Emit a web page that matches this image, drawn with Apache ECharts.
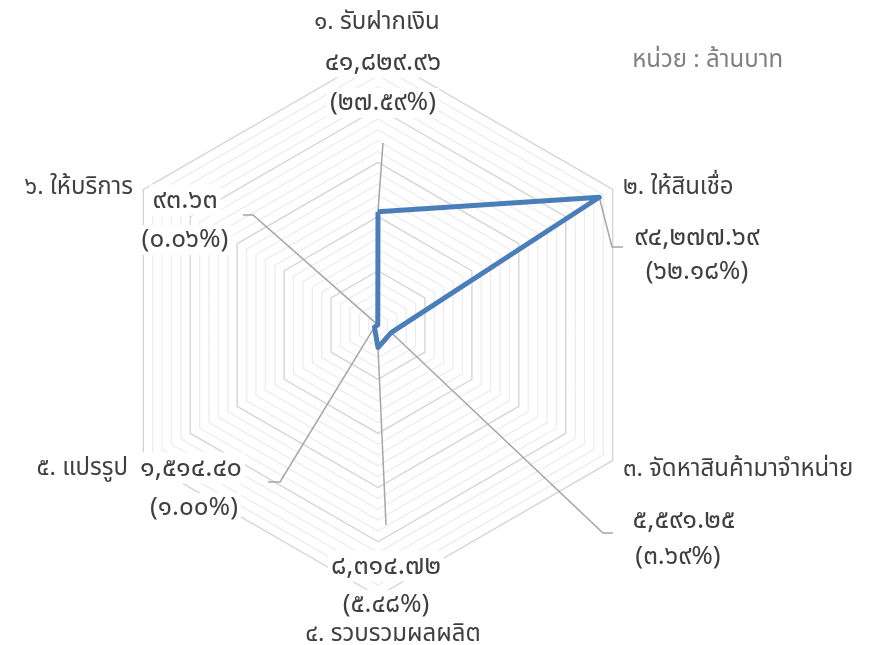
<!DOCTYPE html>
<html>
<head>
<meta charset="utf-8">
<script src="https://cdn.jsdelivr.net/npm/echarts@6/dist/echarts.min.js"></script>
<style>
  html, body { margin: 0; padding: 0; background: #fff; }
  #chart { width: 879px; height: 645px; }
</style>
</head>
<body>
<div id="chart"></div>
<script>
// หมวดธุรกิจ (เรียงตามเข็มนาฬิกาเริ่มจากด้านบน)
const categories = [
  '๑. รับฝากเงิน',
  '๒. ให้สินเชื่อ',
  '๓. จัดหาสินค้ามาจำหน่าย',
  '๔. รวบรวมผลผลิต',
  '๕. แปรรูป',
  '๖. ให้บริการ'
];
// ล้านบาท
const values = [41829.96, 94277.69, 5591.25, 8314.72, 1514.40, 93.63];
// สัดส่วน (%)
const shares = [27.59, 62.18, 3.69, 5.48, 1.00, 0.06];
const axisMax = 100000;
const ringCount = 25; // เส้นย่อยทุก 4,000 เส้นหลักทุก 20,000

const FONT = '"Noto Sans", "Noto Sans Thai", sans-serif';
const TEXT_COLOR = '#404040';
const LEADER_COLOR = '#a6a6a6';

// radar ของ echarts วางแกนทวนเข็ม -> สลับลำดับให้เป็นตามเข็ม
const axisOrder = [0, 5, 4, 3, 2, 1];

// เลขอารบิก -> เลขไทย
function toThai(s) {
  return String(s).replace(/[0-9]/g, d => '๐๑๒๓๔๕๖๗๘๙'[+d]);
}
function fmtValue(v) {
  return toThai(v.toLocaleString('en-US', { minimumFractionDigits: 2, maximumFractionDigits: 2 }));
}
function fmtShare(p) {
  return toThai('(' + p.toFixed(2) + '%)');
}

const chart = echarts.init(document.getElementById('chart'));

chart.setOption({
  animation: false,
  backgroundColor: '#fff',
  radar: {
    center: [378, 325],
    radius: 271,
    startAngle: 90,
    shape: 'polygon',
    splitNumber: ringCount,
    indicator: axisOrder.map(k => ({ name: categories[k], max: axisMax, min: 0 })),
    axisName: { show: false },
    axisLine: { show: false },
    axisTick: { show: false },
    axisLabel: { show: false },
    splitArea: { show: false },
    splitLine: {
      lineStyle: {
        color: ['#d3d3d3', '#ededed', '#ededed', '#ededed', '#ededed'],
        width: 1.3
      }
    }
  },
  series: [{
    type: 'radar',
    z: 3,
    symbol: 'none',
    lineStyle: { color: '#4a7ebb', width: 5, join: 'round' },
    data: [{ value: axisOrder.map(k => values[k]), name: 'มูลค่าธุรกิจ' }]
  }]
});

// ตำแหน่งจุดข้อมูลจากระบบพิกัดของ radar
const radarCS = chart.getModel().getComponent('radar').coordinateSystem;
const pts = values.map((v, i) => radarCS.dataToPoint(v, axisOrder.indexOf(i)));

// ปลายเส้นโยงไปยังป้ายข้อมูล (ตำแหน่งวางป้าย)
const leaderEnds = [
  [[383, 143]],
  [[612, 247], [623, 247]],
  [[603, 533], [613, 533]],
  [[386, 525]],
  [[280, 482], [268, 482]],
  [[253, 215], [243, 215]]
];
// ตำแหน่งป้ายค่า / สัดส่วน / ชื่อหมวด
const valuePos = [[383, 62], [697, 237], [684, 520], [386, 566], [191, 468], [185, 200]];
const sharePos = [[383, 103], [697, 272], [678, 557], [386, 605], [194, 508], [185, 240]];
const namePos = [
  { x: 377, y: 22, align: 'center' },
  { x: 620, y: 187, align: 'left' },
  { x: 620, y: 469, align: 'left' },
  { x: 393, y: 634, align: 'center' },
  { x: 131, y: 468, align: 'right' },
  { x: 136, y: 187, align: 'right' }
];

function label(text, x, y, align, size, color) {
  return {
    type: 'text',
    z: 2,
    x: x,
    y: y,
    style: {
      text: text,
      font: size + 'px ' + FONT,
      fill: color || TEXT_COLOR,
      align: align,
      verticalAlign: 'middle',
      backgroundColor: '#fff',
      padding: [2, 3]
    }
  };
}

const graphics = [];
pts.forEach((p, i) => {
  graphics.push({
    type: 'polyline',
    z: 1,
    shape: { points: [p].concat(leaderEnds[i]) },
    style: { stroke: LEADER_COLOR, lineWidth: 1.5, fill: null }
  });
});
values.forEach((v, i) => {
  graphics.push(label(fmtValue(v), valuePos[i][0], valuePos[i][1], 'center', 27));
  graphics.push(label(fmtShare(shares[i]), sharePos[i][0], sharePos[i][1], 'center', 26));
  graphics.push(label(categories[i], namePos[i].x, namePos[i].y, namePos[i].align, 24));
});
graphics.push(label('หน่วย : ล้านบาท', 786, 60, 'right', 24, '#808080'));

chart.setOption({ graphic: graphics });
</script>
</body>
</html>
